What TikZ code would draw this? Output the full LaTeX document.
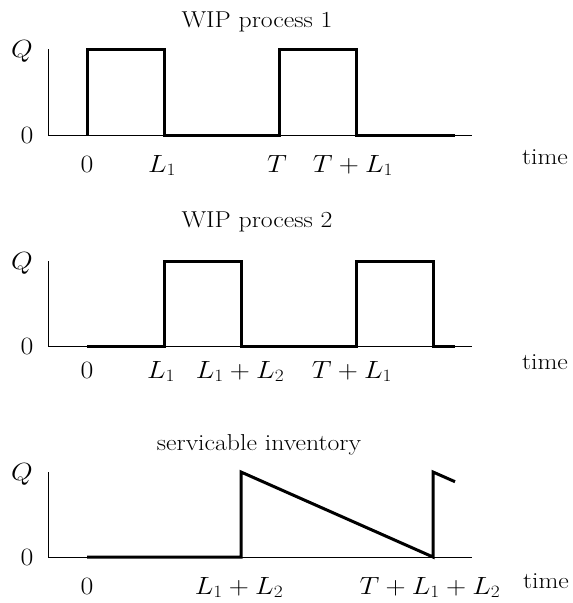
\documentclass[tikz,border=0pt]{standalone}
\newcommand{\hstr}[1]{\scalebox{1.12}[1]{#1}}
\begin{document}
\begin{tikzpicture}[x=1pt,y=-1pt,
  axis/.style={line width=1pt},
  sig/.style={line width=3pt},
  lbl/.style={inner sep=0pt,anchor=base,font=\fontsize{23}{27}\selectfont},
  mlbl/.style={inner sep=0pt,anchor=base,font=\fontsize{26}{30}\selectfont}]
\useasboundingbox (0,0) rectangle (573,603);
% ================= panel 1
\node[lbl] (t1) at (257,27) {\hstr{WIP process 1}};
\coordinate (a1top) at (48.5,49);
\coordinate (a1o) at (48.5,135);
\coordinate (a1end) at (472,135);
\draw[axis] (a1top) -- (a1o) -- (a1end);
\node[mlbl] (q1) at (22,57) {\hstr{$Q$}};
\node[mlbl] (z1) at (27,143) {\hstr{$0$}};
\coordinate (p1a) at (87,135);
\coordinate (p1b) at (87,49);
\coordinate (p1c) at (164,49);
\coordinate (p1d) at (164,135);
\coordinate (p1e) at (279,135);
\coordinate (p1f) at (279,49);
\coordinate (p1g) at (356,49);
\coordinate (p1h) at (356,135);
\coordinate (p1i) at (455,135);
\draw[sig] (p1a) -- (p1b) -- (p1c) -- (p1d) -- (p1e) -- (p1f) -- (p1g) -- (p1h) -- (p1i);
\node[mlbl] (x1a) at (87,172) {\hstr{$0$}};
\node[mlbl] (x1b) at (162,172) {\hstr{$L_1$}};
\node[mlbl] (x1c) at (277,172) {\hstr{$T$}};
\node[mlbl] (x1d) at (353,172) {\hstr{$T+L_1$}};
\node[lbl] (x1t) at (545,164) {\hstr{time}};
% ================= panel 2
\node[lbl] (t2) at (257,227) {\hstr{WIP process 2}};
\coordinate (a2top) at (48.5,261);
\coordinate (a2o) at (48.5,346);
\coordinate (a2end) at (472,346);
\draw[axis] (a2top) -- (a2o) -- (a2end);
\node[mlbl] (q2) at (22,269) {\hstr{$Q$}};
\node[mlbl] (z2) at (27,354) {\hstr{$0$}};
\coordinate (p2a) at (87,346);
\coordinate (p2b) at (164,346);
\coordinate (p2c) at (164,261);
\coordinate (p2d) at (241,261);
\coordinate (p2e) at (241,346);
\coordinate (p2f) at (356,346);
\coordinate (p2g) at (356,261);
\coordinate (p2h) at (433,261);
\coordinate (p2i) at (433,346);
\coordinate (p2j) at (455,346);
\draw[sig] (p2a) -- (p2b) -- (p2c) -- (p2d) -- (p2e) -- (p2f) -- (p2g) -- (p2h) -- (p2i) -- (p2j);
\node[mlbl] (x2a) at (87,378) {\hstr{$0$}};
\node[mlbl] (x2b) at (161,378) {\hstr{$L_1$}};
\node[mlbl] (x2c) at (240,378) {\hstr{$L_1+L_2$}};
\node[mlbl] (x2d) at (352,378) {\hstr{$T+L_1$}};
\node[lbl] (x2t) at (545,369) {\hstr{time}};
% ================= panel 3
\node[lbl] (t3) at (259,450) {\hstr{servicable inventory}};
\coordinate (a3top) at (48.5,472);
\coordinate (a3o) at (48.5,557);
\coordinate (a3end) at (472,557);
\draw[axis] (a3top) -- (a3o) -- (a3end);
\node[mlbl] (q3) at (22,480) {\hstr{$Q$}};
\node[mlbl] (z3) at (27,565) {\hstr{$0$}};
\coordinate (p3a) at (87,557);
\coordinate (p3b) at (241,557);
\coordinate (p3c) at (241,472);
\coordinate (p3d) at (433,557);
\coordinate (p3e) at (433,472);
\coordinate (p3f) at (455,481.7);
\draw[sig] (p3a) -- (p3b) -- (p3c) -- (p3d) -- (p3e) -- (p3f);
\node[mlbl] (x3a) at (87,594) {\hstr{$0$}};
\node[mlbl] (x3b) at (239,594) {\hstr{$L_1+L_2$}};
\node[mlbl] (x3c) at (430,594) {\hstr{$T+L_1+L_2$}};
\node[lbl] (x3t) at (546,588) {\hstr{time}};
\end{tikzpicture}
\end{document}
